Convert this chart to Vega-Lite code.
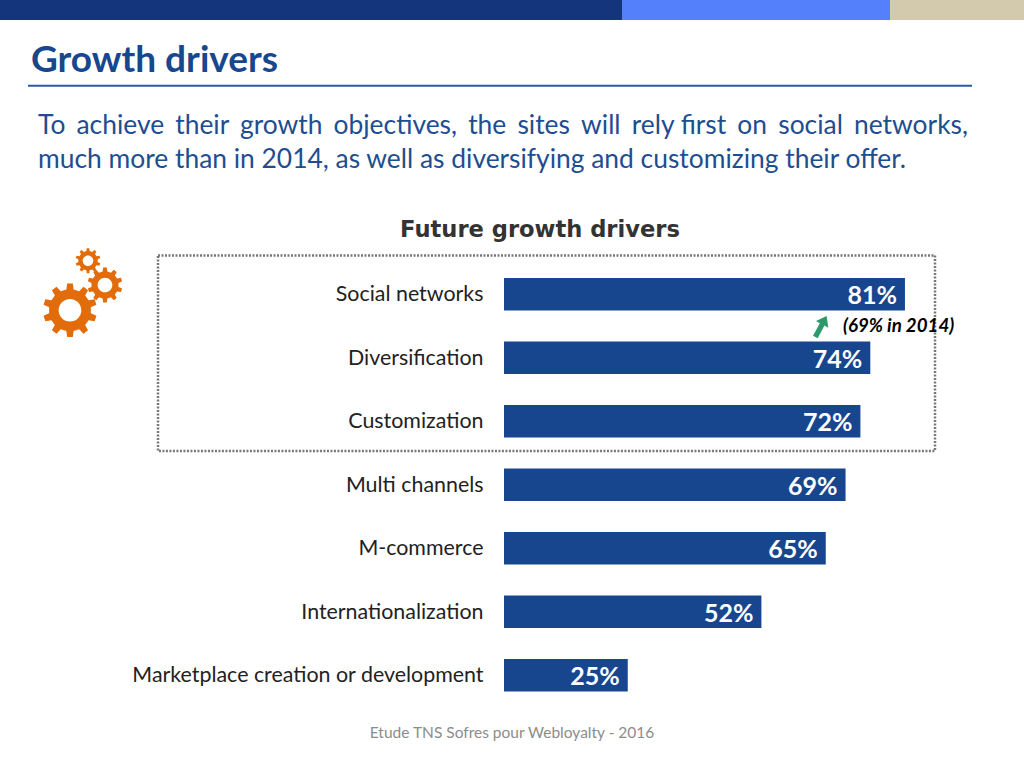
{
"$schema":"https://vega.github.io/schema/vega-lite/v6.json",
"width":1024,"height":768,"autosize":"none","padding":0,"background":"#ffffff",
"title":{"text":"Growth drivers","anchor":"start","frame":"group","dx":31,"offset":-80,"font":"Lato","fontSize":37,"fontWeight":"bold","color":"#17478e"},
"config":{"axisQuantitative":{"disable":true},"view":{"stroke":null}},
"resolve":{"scale":{"y":"independent"}},
"layer":[
{"data":{"values":[{}]},
"layer":[
{"mark":{"type":"rect","color":"#14357c"},"encoding":{"x":{"datum":-101.82,"type":"quantitative","scale":{"domain":[-101.82,105.05],"zero":false,"nice":false}},"x2":{"datum":23.84},"y":{"datum":-3.634,"type":"quantitative","scale":{"domain":[8.461,-3.634],"zero":false,"nice":false}},"y2":{"datum":-3.319}}},
{"mark":{"type":"rect","color":"#5580fb"},"encoding":{"x":{"datum":23.84,"type":"quantitative"},"x2":{"datum":77.98},"y":{"datum":-3.634,"type":"quantitative"},"y2":{"datum":-3.319}}},
{"mark":{"type":"rect","color":"#d3c9ad"},"encoding":{"x":{"datum":77.98,"type":"quantitative"},"x2":{"datum":105.05},"y":{"datum":-3.634,"type":"quantitative"},"y2":{"datum":-3.319}}},
{"mark":{"type":"rule","color":"#2a58a4","strokeWidth":2},"encoding":{"x":{"datum":-96.16,"type":"quantitative"},"x2":{"datum":94.55},"y":{"datum":-2.283,"type":"quantitative"}}},
{"mark":{"type":"text","text":["To \u2006achieve \u2006their \u2006growth \u2006objectives, \u2006the \u2006sites \u2006will \u2006rely first \u2006on \u2006social \u2006networks,","much more than in 2014, as well as diversifying and customizing their offer."],"lineHeight":34,"font":"Lato","fontSize":26.4,"color":"#1e4e8f","align":"left","baseline":"alphabetic"},"encoding":{"x":{"datum":-94.14,"type":"quantitative"},"y":{"datum":-1.531,"type":"quantitative"}}},
{"mark":{"type":"rect","fillOpacity":0,"fill":"#ffffff","stroke":"#777777","strokeWidth":2.5,"strokeDash":[2,1.5]},"encoding":{"x":{"datum":-69.9,"type":"quantitative"},"x2":{"datum":87.07},"y":{"datum":0.39,"type":"quantitative"},"y2":{"datum":3.468}}},
{"mark":{"type":"text","text":"Future growth drivers","font":"DejaVu Sans","fontWeight":"bold","fontSize":22.6,"color":"#333333","align":"center","baseline":"middle"},"encoding":{"x":{"datum":7.27,"type":"quantitative"},"y":{"datum":-0.01,"type":"quantitative"}}},
{"mark":{"type":"text","text":"Etude TNS Sofres pour Webloyalty - 2016","font":"Lato","fontSize":15.5,"color":"#8c8c8c","align":"center","baseline":"middle"},"encoding":{"x":{"datum":1.62,"type":"quantitative"},"y":{"datum":7.91,"type":"quantitative"}}},
{"mark":{"type":"text","text":"(69% in 2014)","font":"Lato","fontSize":18.7,"fontWeight":"bold","fontStyle":"italic","color":"#000000","align":"left","baseline":"middle"},"encoding":{"x":{"datum":68.48,"type":"quantitative"},"y":{"datum":1.503,"type":"quantitative"}}},
{"mark":{"type":"point","filled":true,"color":"#2e9a6b","opacity":1,"angle":28,"size":576,"shape":"M -0.22 1 L -0.22 -0.2 L -0.58 -0.2 L 0 -1 L 0.58 -0.2 L 0.22 -0.2 L 0.22 1 Z"},"encoding":{"x":{"datum":64.04,"type":"quantitative"},"y":{"datum":1.508,"type":"quantitative"}}},
{"mark":{"type":"point","filled":true,"color":"#e36c0a","opacity":1,"size":2916,"shape":"M -.135 -.768 L -.105 -.995 L .105 -.995 L .135 -.768 L .342 -.701 L .5 -.866 L .669 -.743 L .561 -.542 L .689 -.366 L .914 -.407 L .978 -.208 L .772 -.109 L .772 .109 L .978 .208 L .914 .407 L .689 .366 L .561 .542 L .669 .743 L .5 .866 L .342 .701 L .135 .768 L .105 .995 L -.105 .995 L -.135 .768 L -.342 .701 L -.5 .866 L -.669 .743 L -.561 .542 L -.689 .366 L -.914 .407 L -.978 .208 L -.772 .109 L -.772 -.109 L -.978 -.208 L -.914 -.407 L -.689 -.366 L -.561 -.542 L -.669 -.743 L -.5 -.866 L -.342 -.701 Z M 0 -.42 A .42 .42 0 1 0 0 .42 A .42 .42 0 1 0 0 -.42 Z"},"encoding":{"x":{"datum":-87.68,"type":"quantitative"},"y":{"datum":1.252,"type":"quantitative"}}},
{"mark":{"type":"point","filled":true,"color":"#e36c0a","opacity":1,"size":1225,"shape":"M -.135 -.768 L -.105 -.995 L .105 -.995 L .135 -.768 L .342 -.701 L .5 -.866 L .669 -.743 L .561 -.542 L .689 -.366 L .914 -.407 L .978 -.208 L .772 -.109 L .772 .109 L .978 .208 L .914 .407 L .689 .366 L .561 .542 L .669 .743 L .5 .866 L .342 .701 L .135 .768 L .105 .995 L -.105 .995 L -.135 .768 L -.342 .701 L -.5 .866 L -.669 .743 L -.561 .542 L -.689 .366 L -.914 .407 L -.978 .208 L -.772 .109 L -.772 -.109 L -.978 -.208 L -.914 -.407 L -.689 -.366 L -.561 -.542 L -.669 -.743 L -.5 -.866 L -.342 -.701 Z M 0 -.42 A .42 .42 0 1 0 0 .42 A .42 .42 0 1 0 0 -.42 Z"},"encoding":{"x":{"datum":-80.61,"type":"quantitative"},"y":{"datum":0.854,"type":"quantitative"}}},
{"mark":{"type":"point","filled":true,"color":"#e36c0a","opacity":1,"size":625,"shape":"M -.135 -.768 L -.105 -.995 L .105 -.995 L .135 -.768 L .342 -.701 L .5 -.866 L .669 -.743 L .561 -.542 L .689 -.366 L .914 -.407 L .978 -.208 L .772 -.109 L .772 .109 L .978 .208 L .914 .407 L .689 .366 L .561 .542 L .669 .743 L .5 .866 L .342 .701 L .135 .768 L .105 .995 L -.105 .995 L -.135 .768 L -.342 .701 L -.5 .866 L -.669 .743 L -.561 .542 L -.689 .366 L -.914 .407 L -.978 .208 L -.772 .109 L -.772 -.109 L -.978 -.208 L -.914 -.407 L -.689 -.366 L -.561 -.542 L -.669 -.743 L -.5 -.866 L -.342 -.701 Z M 0 -.42 A .42 .42 0 1 0 0 .42 A .42 .42 0 1 0 0 -.42 Z"},"encoding":{"x":{"datum":-84.04,"type":"quantitative"},"y":{"datum":0.472,"type":"quantitative"}}}
]},
{"data":{"values":[
{"driver":"Social networks","share":81,"label":"81%"},
{"driver":"Diversification","share":74,"label":"74%"},
{"driver":"Customization","share":72,"label":"72%"},
{"driver":"Multi channels","share":69,"label":"69%"},
{"driver":"M-commerce","share":65,"label":"65%"},
{"driver":"Internationalization","share":52,"label":"52%"},
{"driver":"Marketplace creation or development","share":25,"label":"25%"}
]},
"encoding":{
"y":{"field":"driver","type":"nominal","sort":null,"title":null,"scale":{"range":[278,691.5],"paddingInner":0.488,"paddingOuter":0},"axis":{"orient":"left","offset":-483,"domain":false,"ticks":false,"labelPadding":0,"labelFont":"Lato","labelFontSize":21.4,"labelColor":"#222222","labelLimit":500,"labelOffset":1,"grid":false}},
"x":{"field":"share","type":"quantitative"}
},
"layer":[
{"mark":{"type":"bar","color":"#17468f"},"encoding":{"x2":{"datum":0}}},
{"mark":{"type":"text","color":"#ffffff","font":"Lato","fontWeight":"bold","fontSize":25,"align":"right","baseline":"middle","dx":-8,"dy":2},"encoding":{"text":{"field":"label"}}}
]}
]
}
